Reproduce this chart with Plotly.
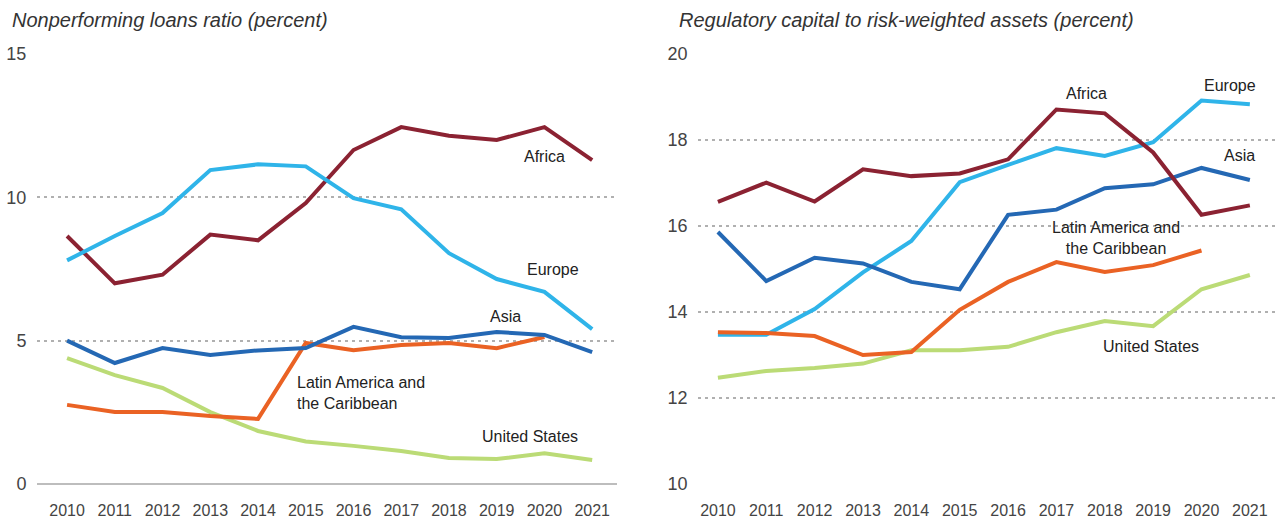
import plotly.graph_objects as go
from plotly.subplots import make_subplots

years = list(range(2010, 2022))

npl_africa = [8.65, 7.0, 7.3, 8.7, 8.5, 9.8, 11.65, 12.45, 12.15, 12.0, 12.45, 11.3]
npl_europe = [7.8, 8.65, 9.45, 10.95, 11.15, 11.08, 9.97, 9.58, 8.05, 7.15, 6.7, 5.4]
npl_asia = [5.0, 4.22, 4.74, 4.5, 4.66, 4.74, 5.48, 5.12, 5.09, 5.3, 5.2, 4.6]
npl_latam = [2.76, 2.51, 2.51, 2.37, 2.27, 4.92, 4.67, 4.85, 4.92, 4.74, 5.13]
npl_us = [4.39, 3.8, 3.35, 2.51, 1.85, 1.48, 1.33, 1.15, 0.91, 0.87, 1.07, 0.84]

car_africa = [16.56, 17.01, 16.57, 17.32, 17.16, 17.22, 17.55, 18.71, 18.62, 17.71, 16.26, 16.48]
car_europe = [13.47, 13.47, 14.07, 14.92, 15.65, 17.02, 17.42, 17.81, 17.63, 17.95, 18.92, 18.83]
car_asia = [15.86, 14.72, 15.26, 15.13, 14.7, 14.53, 16.26, 16.38, 16.88, 16.97, 17.35, 17.07]
car_latam = [13.53, 13.51, 13.44, 13.0, 13.07, 14.05, 14.7, 15.16, 14.93, 15.09, 15.43]
car_us = [12.47, 12.63, 12.7, 12.8, 13.11, 13.11, 13.19, 13.53, 13.79, 13.67, 14.53, 14.86]

colors = {
    "Africa": "#8B2232",
    "Europe": "#2FB4E9",
    "Asia": "#2468B4",
    "LatAm": "#EA6224",
    "US": "#BBDB76",
}

fig = make_subplots(rows=1, cols=2, horizontal_spacing=0.0655)

left = [("Africa", npl_africa), ("Europe", npl_europe), ("US", npl_us), ("LatAm", npl_latam), ("Asia", npl_asia)]
right = [("US", car_us), ("Europe", car_europe), ("Asia", car_asia), ("LatAm", car_latam), ("Africa", car_africa)]

for name, vals in left:
    fig.add_trace(go.Scatter(x=years[:len(vals)], y=vals, mode="lines",
                             line=dict(color=colors[name], width=4),
                             showlegend=False, hoverinfo="skip"), row=1, col=1)
for name, vals in right:
    fig.add_trace(go.Scatter(x=years[:len(vals)], y=vals, mode="lines",
                             line=dict(color=colors[name], width=4),
                             showlegend=False, hoverinfo="skip"), row=1, col=2)

tickfont = dict(family="Liberation Sans", size=16, color="#444")
xcommon = dict(tickmode="array", tickvals=years, ticktext=[str(y) for y in years],
               showgrid=False, zeroline=False, showline=False, ticks="outside",
               ticklen=12, tickcolor="rgba(0,0,0,0)", tickfont=tickfont)
fig.update_xaxes(range=[2009.37, 2021.52], domain=[0, 0.4685], row=1, col=1, **xcommon)
fig.update_xaxes(range=[2009.59, 2021.52], domain=[0.534, 1], row=1, col=2, **xcommon)

ycommon = dict(showgrid=True, gridcolor="#b0b0b0", griddash="3px,4px", gridwidth=1.5,
               showline=False, ticks="outside", ticklen=6, tickcolor="rgba(0,0,0,0)",
               tickfont=dict(family="Liberation Sans", size=18, color="#444"))
fig.update_yaxes(range=[0, 15], tickvals=[0, 5, 10, 15], zeroline=True,
                 zerolinecolor="#bdbdbd", zerolinewidth=2, row=1, col=1, **ycommon)
fig.update_yaxes(range=[10, 20], tickvals=[10, 12, 14, 16, 18, 20], zeroline=False,
                 row=1, col=2, **ycommon)

lab = dict(family="Liberation Sans", size=16, color="#222")
ann = [
    ("x", "y", 2020.0, 11.44, "Africa", "center"),
    ("x", "y", 2020.17, 7.5, "Europe", "center"),
    ("x", "y", 2019.18, 5.86, "Asia", "center"),
    ("x", "y", 2014.78, 3.17, "Latin America and<br>the Caribbean", "left"),
    ("x", "y", 2019.7, 1.64, "United States", "center"),
    ("x2", "y2", 2017.62, 19.07, "Africa", "center"),
    ("x2", "y2", 2020.58, 19.26, "Europe", "center"),
    ("x2", "y2", 2020.79, 17.65, "Asia", "center"),
    ("x2", "y2", 2018.24, 15.72, "Latin America and<br>the Caribbean", "center"),
    ("x2", "y2", 2018.95, 13.19, "United States", "center"),
]
for xr, yr, x, y, t, al in ann:
    fig.add_annotation(xref=xr, yref=yr, x=x, y=y, text=t, showarrow=False,
                       xanchor=al, yanchor="middle", align=al, font=lab)

title_font = dict(family="Liberation Sans", size=20, color="#333", style="italic")
fig.add_annotation(xref="paper", yref="paper", x=-0.0218, y=1.079, xanchor="left", yanchor="middle",
                   text="Nonperforming loans ratio (percent)", showarrow=False, font=title_font)
fig.add_annotation(xref="paper", yref="paper", x=0.517, y=1.079, xanchor="left", yanchor="middle",
                   text="Regulatory capital to risk-weighted assets (percent)", showarrow=False, font=title_font)

fig.update_layout(width=1275, height=521, margin=dict(l=37, r=0, t=54, b=37),
                  paper_bgcolor="white", plot_bgcolor="white")

fig.write_html("out.html", config={"displayModeBar": False},
               post_script="document.body.style.margin='0';")
